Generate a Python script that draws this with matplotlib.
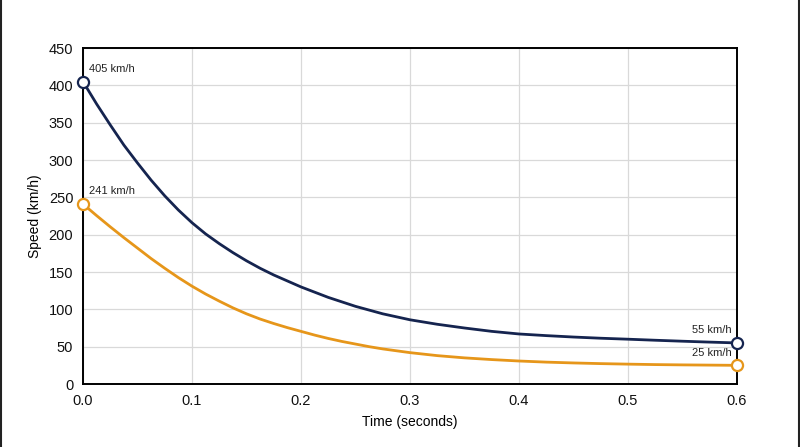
import numpy as np
import matplotlib.pyplot as plt
from matplotlib.lines import Line2D

# tiempos (s) y velocidades (km/h)
t = [0.0, 0.0125, 0.025, 0.0375, 0.05, 0.0625, 0.075, 0.0875, 0.1, 0.1125,
     0.125, 0.1375, 0.15, 0.1625, 0.175, 0.1875, 0.2, 0.2125, 0.225, 0.2375,
     0.25, 0.2625, 0.275, 0.2875, 0.3, 0.325, 0.35, 0.375, 0.4, 0.425,
     0.45, 0.475, 0.5, 0.525, 0.55, 0.575, 0.6]
v_navy = [405, 375, 347, 320, 296, 273, 252, 233, 216, 201,
          188, 176, 165, 155, 146, 138, 130, 123, 116, 110,
          104, 99, 94, 90, 86, 80, 75, 70.5, 67, 64.8,
          62.9, 61.3, 60, 58.6, 57.3, 56.1, 55]
v_orange = [241, 225.5, 210.5, 196, 182, 168, 155, 142.5, 131, 120.5,
            111, 102, 94, 87, 81, 75.5, 70.5, 65.5, 61, 57,
            53.5, 50, 47, 44.5, 42, 38, 35, 32.7, 30.8, 29.3,
            28.2, 27.3, 26.6, 26, 25.6, 25.3, 25]

x_ticks = [0.0, 0.1, 0.2, 0.3, 0.4, 0.5, 0.6]
y_ticks = [0, 50, 100, 150, 200, 250, 300, 350, 400, 450]

NAVY = '#15244f'
ORANGE = '#e6961a'

plt.rcParams['font.family'] = ['Liberation Sans', 'DejaVu Sans']

fig = plt.figure(figsize=(8, 4.47), dpi=100)
ax = fig.add_axes([83 / 800, 1 - 384 / 447, 654 / 800, 336 / 447])

for vals, col in [(v_navy, NAVY), (v_orange, ORANGE)]:
    ax.plot(t, vals, color=col, lw=2, zorder=3)
    ax.plot([t[0], t[-1]], [vals[0], vals[-1]], 'o', ms=8, mfc='white',
            mec=col, mew=1.6, zorder=5, clip_on=False)
    ax.annotate(f"{vals[0]:g} km/h", (t[0], vals[0]), xytext=(4, 7),
                textcoords='offset points', fontsize=8, color='#222222')
    ax.annotate(f"{vals[-1]:g} km/h", (t[-1], vals[-1]), xytext=(-4, 7),
                textcoords='offset points', fontsize=8, color='#222222',
                ha='right')

ax.set_xlim(0, 0.6)
ax.set_ylim(0, 450)
ax.set_xticks(x_ticks)
ax.set_xticklabels([f"{x:.1f}" for x in x_ticks])
ax.set_yticks(y_ticks)
ax.tick_params(length=0, labelsize=10.5, pad=7, colors='#111111')
ax.grid(True, color='#d9d9d9', lw=0.9)
ax.set_axisbelow(True)
for s in ax.spines.values():
    s.set_linewidth(1.4)
    s.set_color('black')

ax.set_xlabel("Time (seconds)", fontsize=10, labelpad=5)
ax.set_ylabel("Speed (km/h)", fontsize=10, labelpad=5)

# bordes verticales de la captura
fig.add_artist(Line2D([1 / 800, 1 / 800], [0, 1], color='#222222', lw=1.5))
fig.add_artist(Line2D([798.5 / 800, 798.5 / 800], [0, 1], color='#222222', lw=1.5))

fig.savefig('out.png', dpi=100)
